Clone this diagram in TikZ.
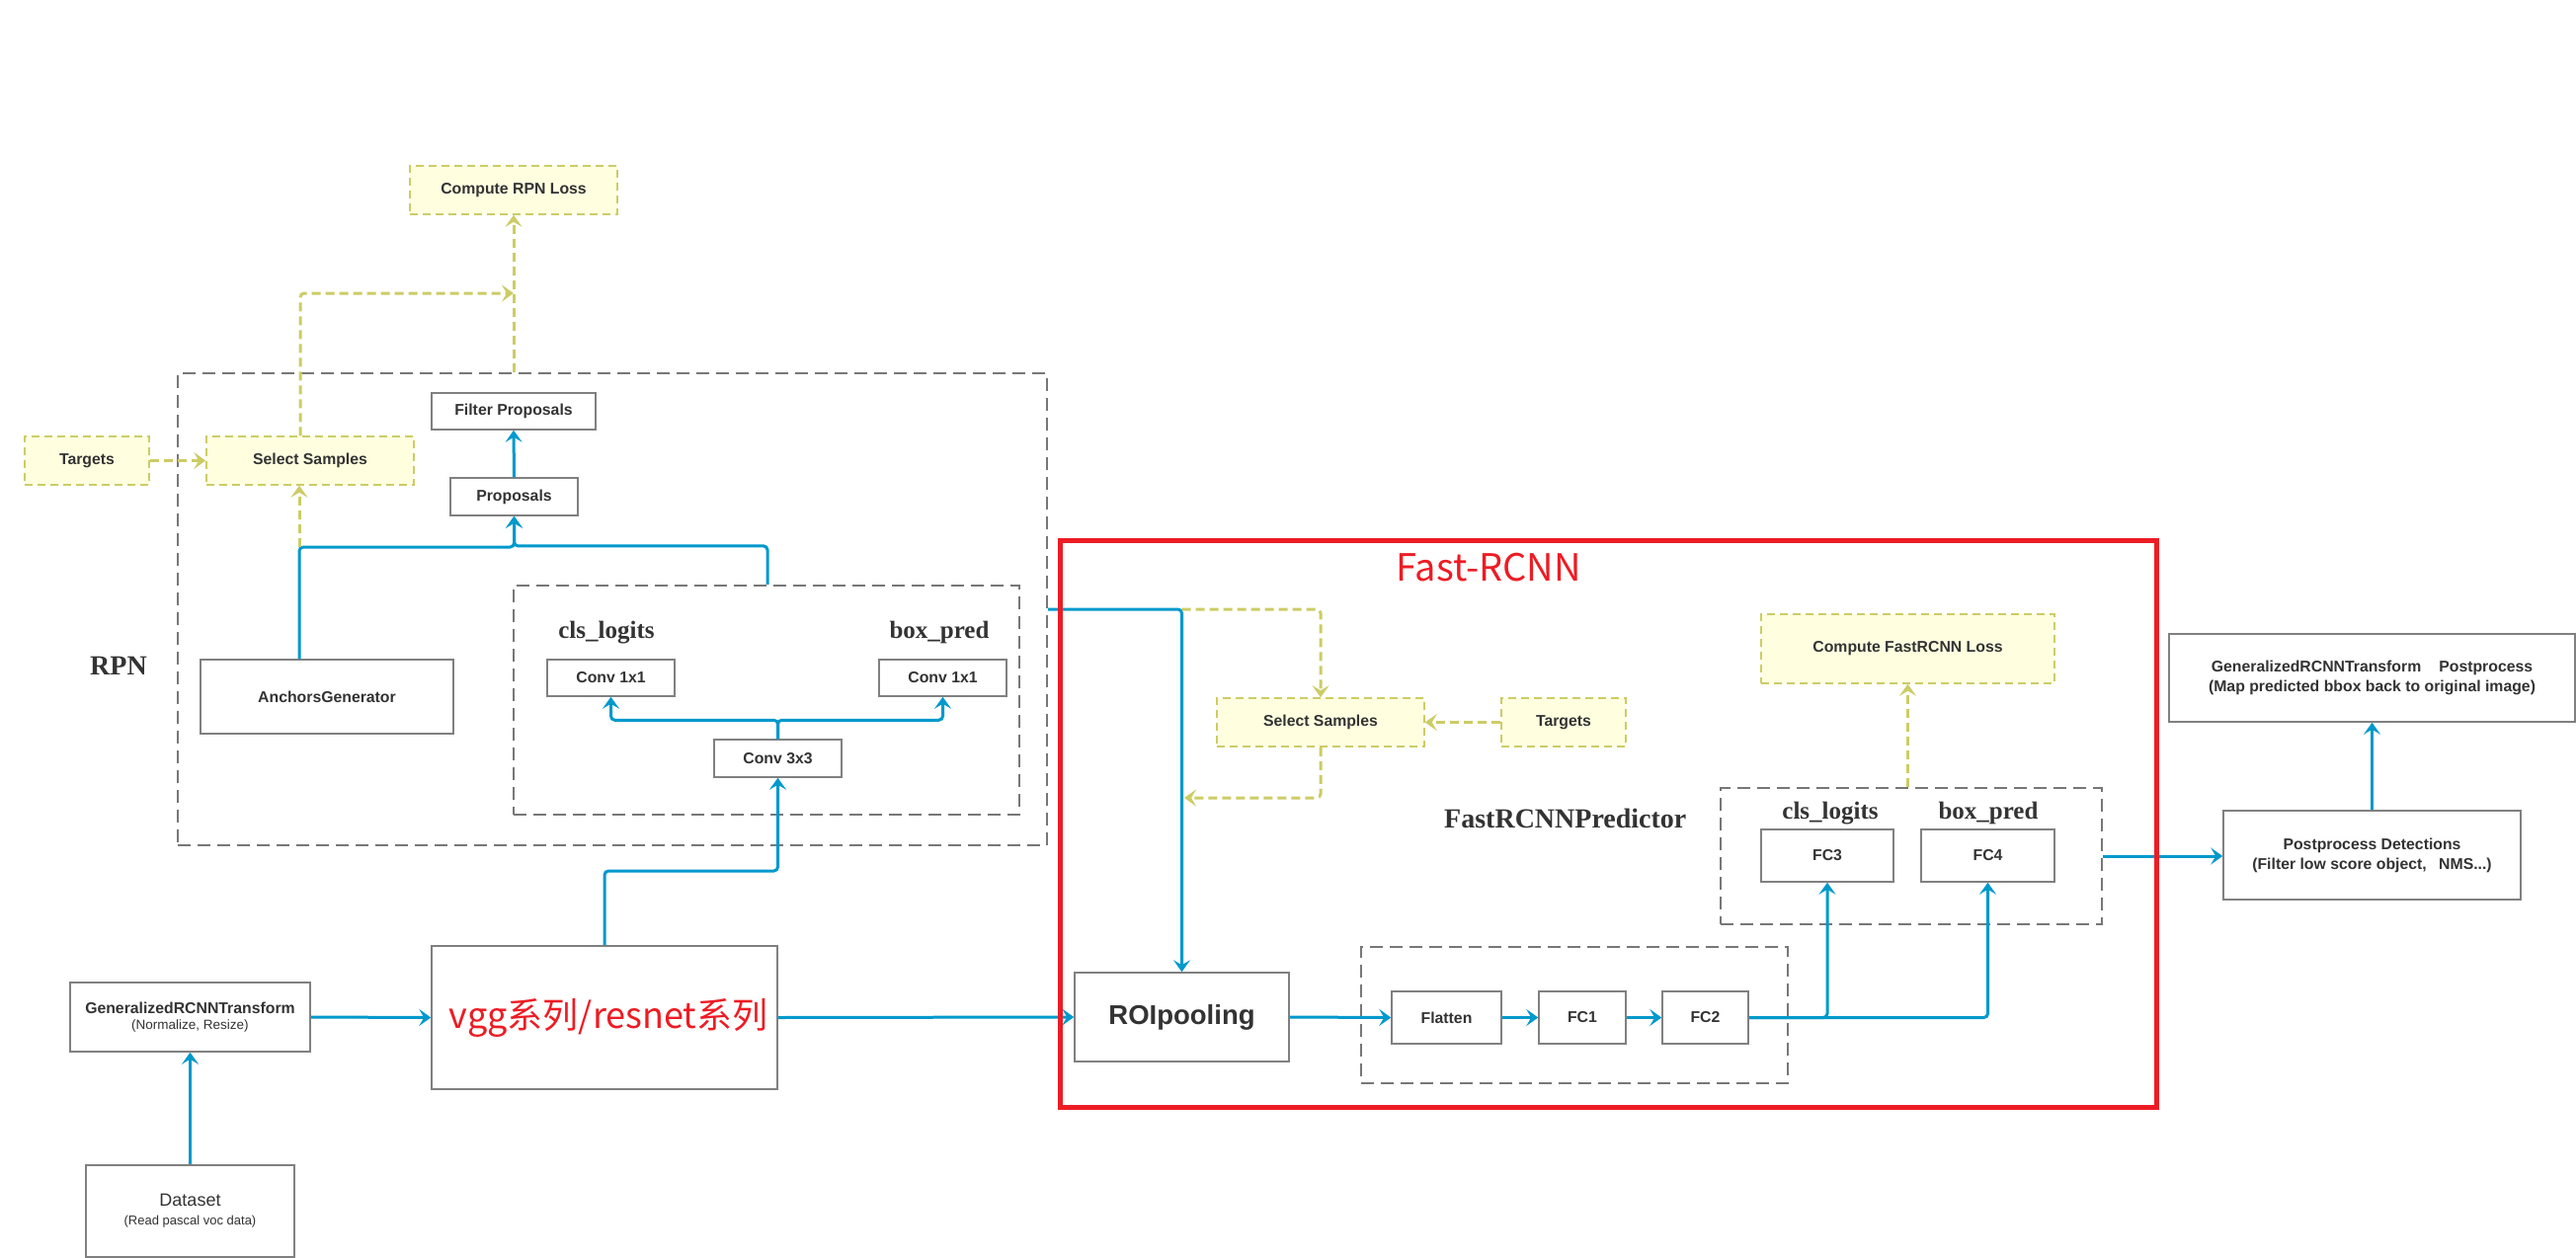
\documentclass[tikz,border=0pt]{standalone}
\usepackage{fontspec}
\setmainfont{Liberation Sans}
\newfontfamily\serifbf{Liberation Serif}
\newfontfamily\cjk{Noto Sans CJK SC}
\usetikzlibrary{arrows.meta}
\definecolor{lineblue}{RGB}{0,153,204}
\definecolor{lineyel}{RGB}{204,204,102}
\definecolor{fillyel}{RGB}{255,255,224}
\definecolor{grpgray}{RGB}{119,119,119}
\definecolor{boxgray}{RGB}{128,128,128}
\definecolor{txtgray}{RGB}{51,51,51}
\definecolor{fastred}{RGB}{237,28,36}
\tikzset{
  pbox/.style={draw=boxgray,line width=1.5pt,fill=white,inner sep=0pt,align=center,text=txtgray,font=\fontsize{15.8}{19}\selectfont\bfseries},
  ybox/.style={pbox,draw=lineyel,fill=fillyel,dash pattern=on 8pt off 5pt},
  grp/.style={draw=grpgray,line width=2.2pt,dash pattern=on 13pt off 7pt,inner sep=0pt},
  tipstyle/.style={-{Stealth[length=12pt,width=17pt,inset=5pt]}},
  bflow/.style={draw=lineblue,line width=3pt,rounded corners=4pt,tipstyle},
  yflow/.style={draw=lineyel,line width=3pt,dash pattern=on 9pt off 5pt,rounded corners=4pt,tipstyle},
  slabel/.style={anchor=base,inner sep=0pt,text=txtgray,font=\serifbf\bfseries\fontsize{25}{25}\selectfont},
}
\begin{document}
\begin{tikzpicture}[x=1pt,y=-1pt]
\useasboundingbox (0,0) rectangle (2608,1274);
\fill[white] (0,0) rectangle (2608,1274);

% group containers
\node[grp,minimum width=880pt,minimum height=478pt] (rpn) at (620,617) {};
\node[grp,minimum width=512pt,minimum height=232pt] (head) at (776,709) {};
\node[grp,minimum width=432pt,minimum height=138pt] (flatgrp) at (1594,1028) {};
\node[grp,minimum width=386pt,minimum height=138pt] (pred) at (1935,867) {};

% labels
\node[slabel,font=\serifbf\bfseries\fontsize{28}{28}\selectfont] (rpnlbl) at (120,683) {RPN};
\node[slabel] (cls1) at (614,646) {cls\_logits};
\node[slabel] (box1) at (951,646) {box\_pred};
\node[slabel] (cls2) at (1853,829) {cls\_logits};
\node[slabel] (box2) at (2013,829) {box\_pred};
\node[slabel,anchor=base west,font=\serifbf\bfseries\fontsize{28}{28}\selectfont] (predlbl) at (1462,838) {FastRCNNPredictor};
\node[anchor=base west,inner sep=0pt,text=fastred,font=\cjk\fontsize{38}{38}\selectfont] (frlbl) at (1413,588) {Fast-RCNN};

% yellow boxes
\node[ybox,minimum width=210pt,minimum height=49pt] (lossRPN) at (520,192.5) {Compute RPN Loss};
\node[ybox,minimum width=126pt,minimum height=49pt] (tgt1) at (88,466.5) {Targets};
\node[ybox,minimum width=210pt,minimum height=49pt] (sel1) at (314,466.5) {Select Samples};
\node[ybox,minimum width=210pt,minimum height=49pt] (sel2) at (1337,731.5) {Select Samples};
\node[ybox,minimum width=126pt,minimum height=49pt] (tgt2) at (1583,731.5) {Targets};
\node[ybox,minimum width=297pt,minimum height=70pt] (lossF) at (1931.5,657) {Compute FastRCNN Loss};

% plain boxes
\node[pbox,minimum width=166pt,minimum height=37pt] (filt) at (520,416.5) {Filter Proposals};
\node[pbox,minimum width=129pt,minimum height=38pt] (prop) at (520.5,503) {Proposals};
\node[pbox,minimum width=256pt,minimum height=75pt] (anch) at (331,705.5) {AnchorsGenerator};
\node[pbox,minimum width=129pt,minimum height=37pt] (c11a) at (618.5,686.5) {Conv 1x1};
\node[pbox,minimum width=129pt,minimum height=37pt] (c11b) at (954.5,686.5) {Conv 1x1};
\node[pbox,minimum width=129pt,minimum height=38pt] (c33) at (787.5,768) {Conv 3x3};
\node[pbox,minimum width=243pt,minimum height=70pt] (grt) at (192.5,1030) {GeneralizedRCNNTransform\\[-3pt]{\mdseries\fontsize{13.5}{16}\selectfont (Normalize, Resize)}};
\node[pbox,minimum width=211pt,minimum height=93pt] (data) at (192.5,1226.5) {{\mdseries\fontsize{18}{20}\selectfont Dataset}\\[0pt]{\mdseries\fontsize{13}{16}\selectfont (Read pascal voc data)}};
\node[pbox,minimum width=350pt,minimum height=145pt,font=\cjk\fontsize{36}{36}\selectfont,text=fastred] (vgg) at (612,1030.5) {\raisebox{-9pt}{\hspace*{8pt}vgg系列/resnet系列}};
\node[pbox,minimum width=217pt,minimum height=90pt,font=\fontsize{27.5}{30}\selectfont\bfseries] (roi) at (1196.5,1030) {ROIpooling};
\node[pbox,minimum width=111pt,minimum height=53pt] (flat) at (1464.5,1030.5) {Flatten};
\node[pbox,minimum width=88pt,minimum height=53pt] (fc1) at (1602,1030.5) {FC1};
\node[pbox,minimum width=87pt,minimum height=53pt] (fc2) at (1726.5,1030.5) {FC2};
\node[pbox,minimum width=134pt,minimum height=53pt] (fc3) at (1850,866.5) {FC3};
\node[pbox,minimum width=135pt,minimum height=53pt] (fc4) at (2012.5,866.5) {FC4};
\node[pbox,minimum width=301pt,minimum height=90pt] (ppd) at (2401.5,866) {Postprocess Detections\\[1pt](Filter low score object,\hspace{8pt} NMS...)};
\node[pbox,minimum width=411pt,minimum height=89pt] (grtp) at (2401.5,686.5) {GeneralizedRCNNTransform\hspace{18pt}Postprocess\\[1pt](Map predicted bbox back to original image)};

% junction coordinates
\coordinate (j1) at (303,554);
\coordinate (j2) at (520,297);
\coordinate (j3) at (roi.north |- rpn.east);
\coordinate (j4) at (1199,808);
\coordinate (j5) at (612,882);

% blue connectors
\draw[bflow] (data.north) -- (grt.south);
\draw[bflow] (grt.east) -- (vgg.west);
\draw[bflow] (vgg.east) -- (roi.west);
\draw[bflow] (vgg.north) -- (j5) -| (c33.south);
\draw[bflow] (c33.north) -- ++(0,-19) -| (c11a.south);
\draw[bflow] (c33.north) -- ++(0,-19) -| (c11b.south);
\draw[bflow] ([xshift=-28pt]anch.north) -- (j1) -| (prop.south);
\draw[bflow] ([xshift=1pt]head.north) -- ++(0,-39) -| (prop.south);
\draw[bflow] (prop.north) -- (filt.south);
\draw[bflow] (rpn.east) -| (roi.north);
\draw[bflow] (roi.east) -- (flat.west);
\draw[bflow] (flat.east) -- (fc1.west);
\draw[bflow] (fc1.east) -- (fc2.west);
\draw[bflow] (fc2.east) -| (fc3.south);
\draw[bflow] (fc2.east) -| (fc4.south);
\draw[bflow] (pred.east) -- (pred.east -| ppd.west);
\draw[bflow] (ppd.north) -- (grtp.south);

% yellow dashed connectors
\draw[yflow] (j1) -- (j1 |- sel1.south);
\draw[yflow] ([xshift=-10pt]sel1.north) |- (j2);
\draw[yflow] (lossRPN.south |- rpn.north) -- (lossRPN.south);
\draw[yflow] (tgt1.east) -- (sel1.west);
\draw[yflow] (j3) -| (sel2.north);
\draw[yflow] (tgt2.west) -- (sel2.east);
\draw[yflow] (sel2.south) |- (j4);
\draw[yflow] (lossF.south |- pred.north) -- (lossF.south);

% Fast-RCNN frame
\node[draw=fastred,line width=5pt,minimum width=1110pt,minimum height=574pt,inner sep=0pt] (fastrcnn) at (1628,834) {};
\end{tikzpicture}
\end{document}
